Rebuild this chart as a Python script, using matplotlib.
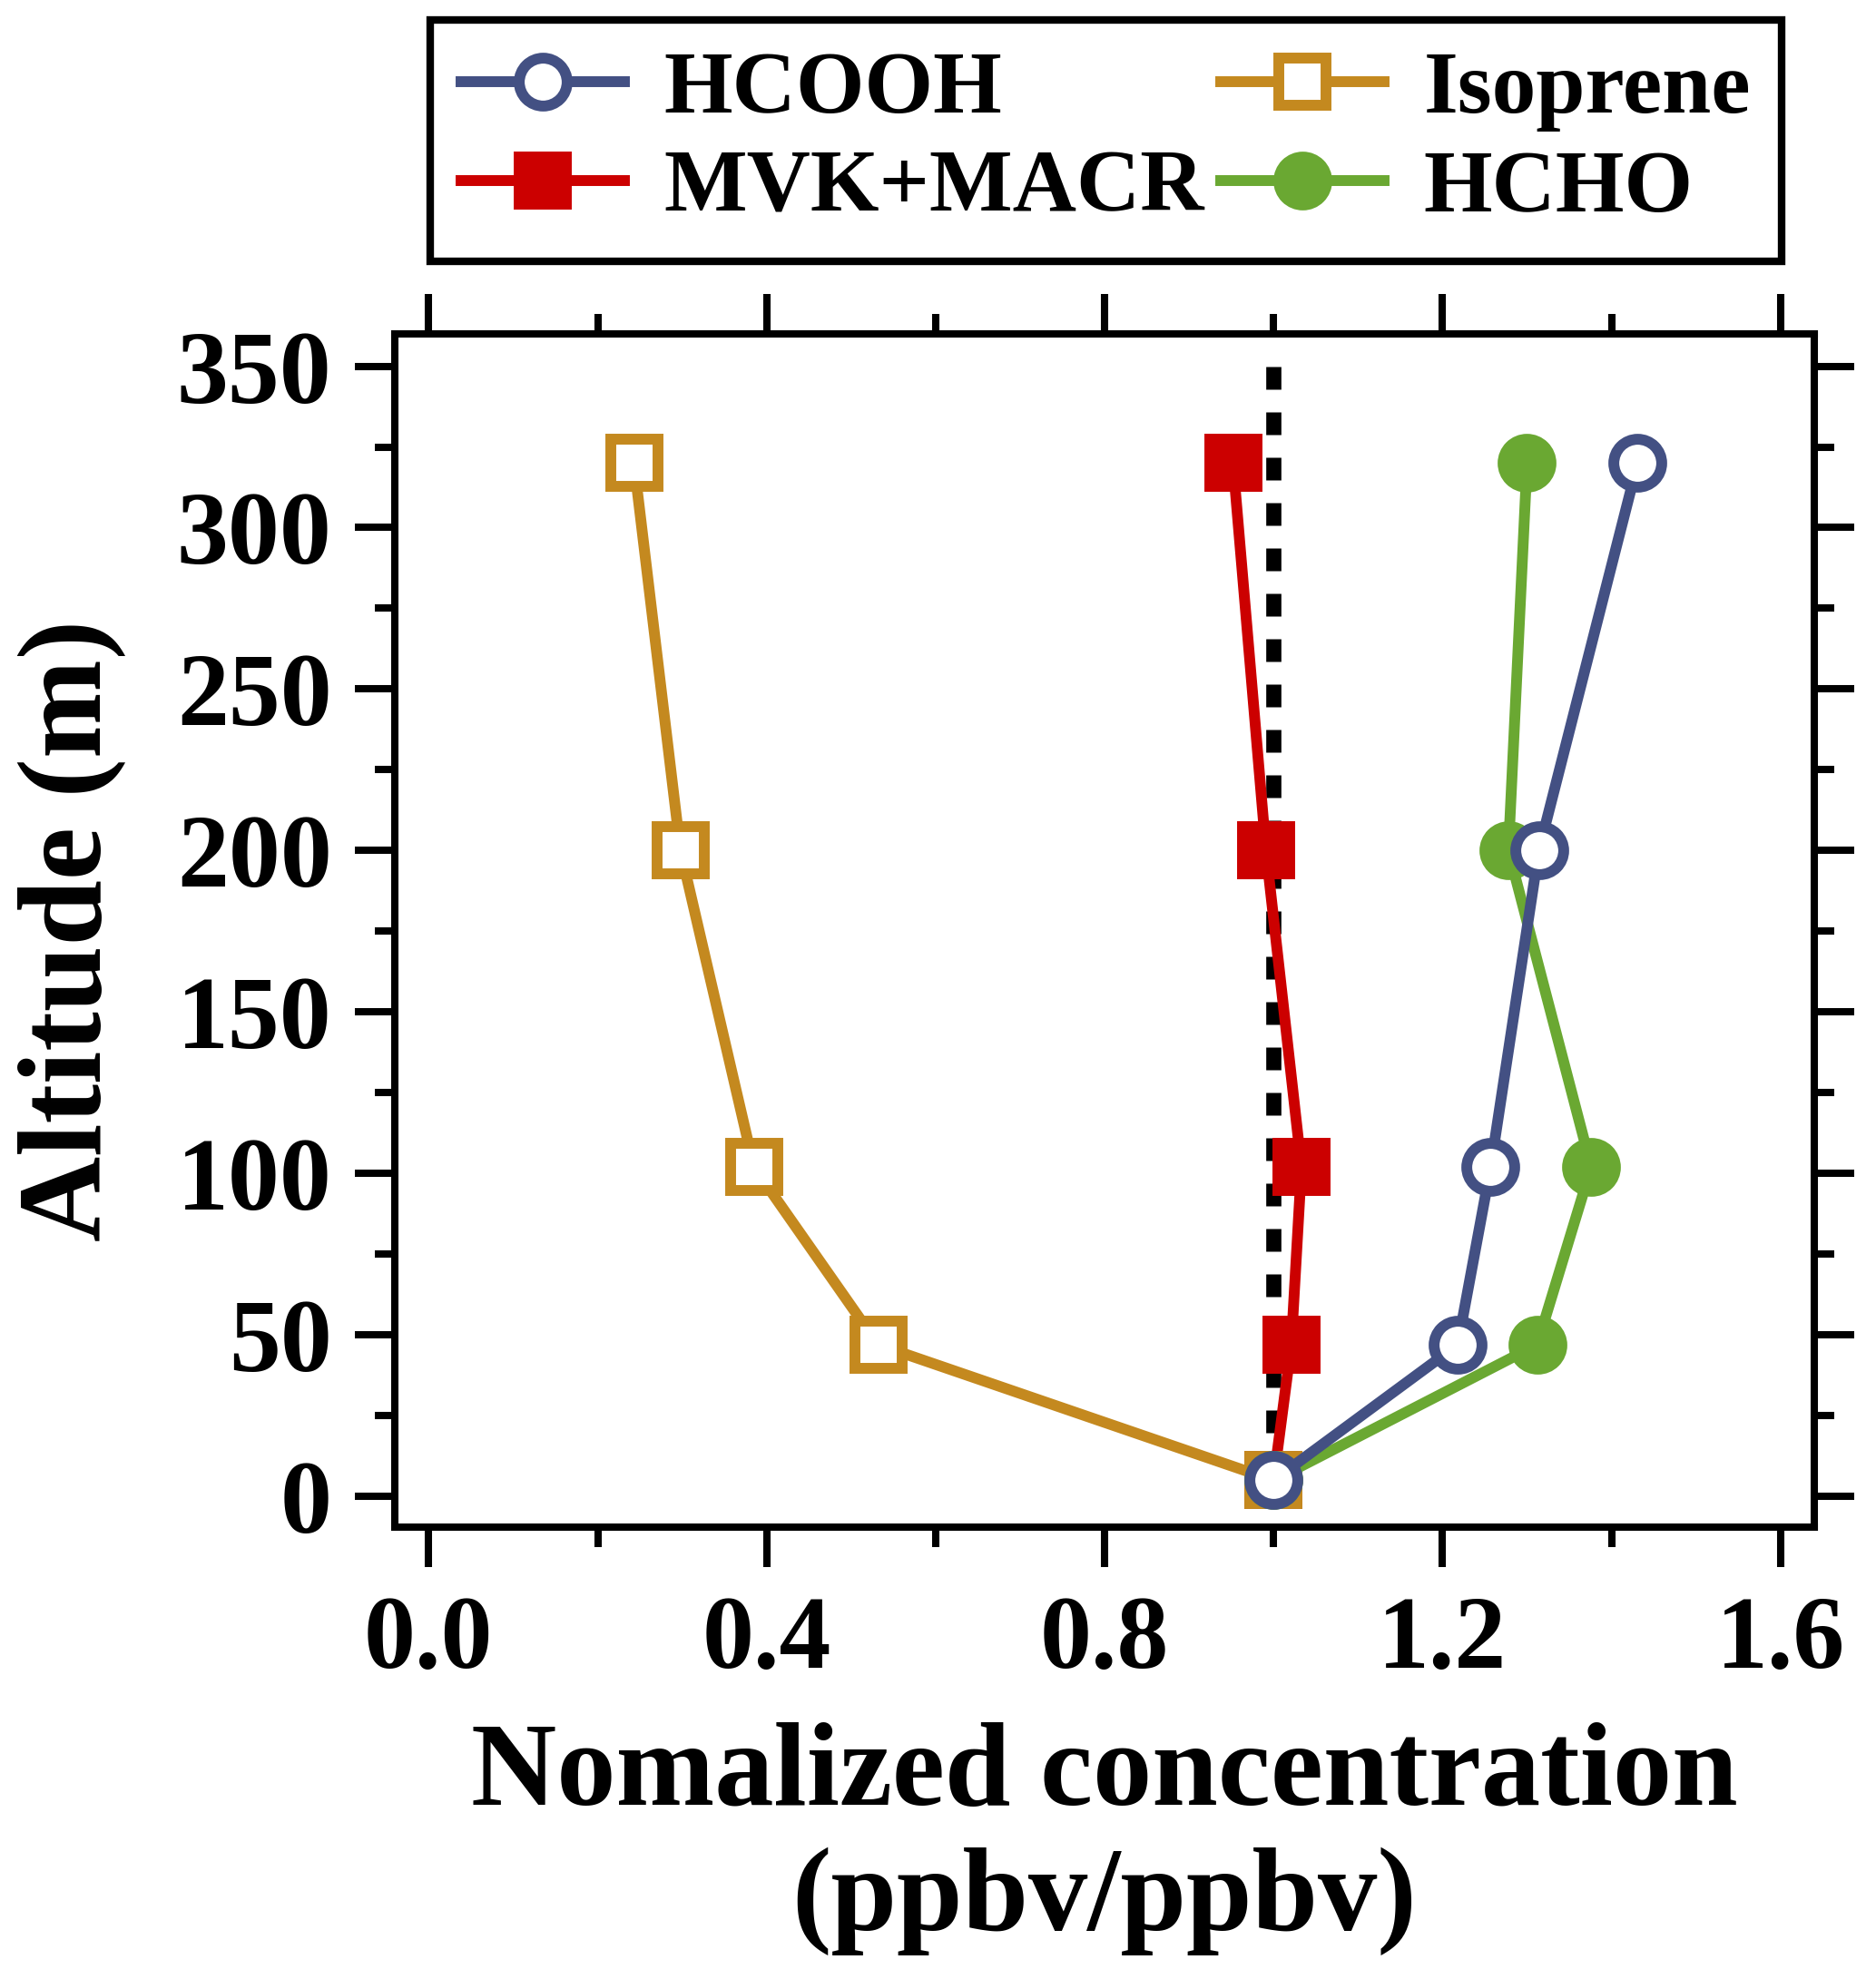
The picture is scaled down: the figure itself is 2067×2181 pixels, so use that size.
import numpy as np
import matplotlib.pyplot as plt
from matplotlib.ticker import MultipleLocator
from matplotlib.lines import Line2D

# altitude of the measurement levels (m)
altitude = [5, 47, 102, 200, 320]

# normalized concentrations (ppbv/ppbv)
hcooh = [1.0, 1.218, 1.257, 1.314, 1.431]
mvk_macr = [1.0, 1.021, 1.033, 0.991, 0.952]
isoprene = [1.0, 0.532, 0.385, 0.298, 0.243]
hcho = [1.0, 1.312, 1.376, 1.278, 1.300]

# reference line at 1 (drawn top-down so the dash pattern starts at 350)
ref_x = [1.0, 1.0]
ref_y = [350, 0]

c_hcooh = '#435083'
c_mvk = '#cc0000'
c_iso = '#c4891f'
c_hcho = '#6aa832'

plt.rcParams['font.family'] = ['Liberation Serif', 'DejaVu Serif']
plt.rcParams['font.weight'] = 'bold'

fig = plt.figure(figsize=(20.67, 21.81), dpi=100)
ax = fig.add_axes([0.2105, 0.2283, 0.7566, 0.6030])

lw = 8.6
ms = 38
mew = 8.6

ax.plot(ref_x, ref_y, color='black', lw=12, linestyle=(0, (1.5, 1.5)), zorder=1)
ax.plot(mvk_macr, altitude, color=c_mvk, lw=lw, marker='s', ms=ms, mew=mew,
        mfc=c_mvk, mec=c_mvk, zorder=2)
ax.plot(isoprene, altitude, color=c_iso, lw=lw, marker='s', ms=ms, mew=mew,
        mfc='white', mec=c_iso, zorder=3)
ax.plot(hcho, altitude, color=c_hcho, lw=lw, marker='o', ms=ms, mew=mew,
        mfc=c_hcho, mec=c_hcho, zorder=4)
ax.plot(hcooh, altitude, color=c_hcooh, lw=lw, marker='o', ms=ms, mew=mew,
        mfc='white', mec=c_hcooh, zorder=5)

ax.set_xlim(-0.04, 1.64)
ax.set_ylim(-9.5, 360)

ax.xaxis.set_major_locator(MultipleLocator(0.4))
ax.xaxis.set_minor_locator(MultipleLocator(0.2))
ax.yaxis.set_major_locator(MultipleLocator(50))
ax.yaxis.set_minor_locator(MultipleLocator(25))
ax.xaxis.set_major_formatter(plt.FuncFormatter(lambda v, p: f"{v:.1f}"))

ax.tick_params(which='both', direction='out', top=True, right=True,
               width=5.8, labelsize=82, pad=18)
ax.tick_params(which='major', length=32)
ax.tick_params(which='minor', length=16)
ax.tick_params(axis='x', which='both', labeltop=False, pad=22)
ax.tick_params(axis='y', which='both', labelright=False)
for s in ax.spines.values():
    s.set_linewidth(5.8)

ax.set_xlabel("Nomalized concentration\n(ppbv/ppbv)", fontsize=94,
              fontweight='bold', labelpad=26, linespacing=1.2)
ax.set_ylabel("Altitude (m)", fontsize=94, fontweight='bold', labelpad=40)

handles = [
    Line2D([], [], color=c_hcooh, lw=lw, marker='o', ms=ms, mew=mew,
           mfc='white', mec=c_hcooh, label='HCOOH'),
    Line2D([], [], color=c_mvk, lw=lw, marker='s', ms=ms, mew=mew,
           mfc=c_mvk, mec=c_mvk, label='MVK+MACR'),
    Line2D([], [], color=c_iso, lw=lw, marker='s', ms=ms, mew=mew,
           mfc='white', mec=c_iso, label='Isoprene'),
    Line2D([], [], color=c_hcho, lw=lw, marker='o', ms=ms, mew=mew,
           mfc=c_hcho, mec=c_hcho, label='HCHO'),
]
leg = fig.legend(handles=handles, ncol=2, loc='lower left',
                 bbox_to_anchor=(0.2293, 0.868, 0.7204, 0.1), mode='expand',
                 borderaxespad=0, fontsize=70, frameon=True, fancybox=False,
                 edgecolor='black', framealpha=1, handlelength=1.85,
                 handletextpad=0.45, labelspacing=0.2, borderpad=0.35,
                 numpoints=1)
leg.get_frame().set_linewidth(6)

fig.savefig('out.png', dpi=100)
